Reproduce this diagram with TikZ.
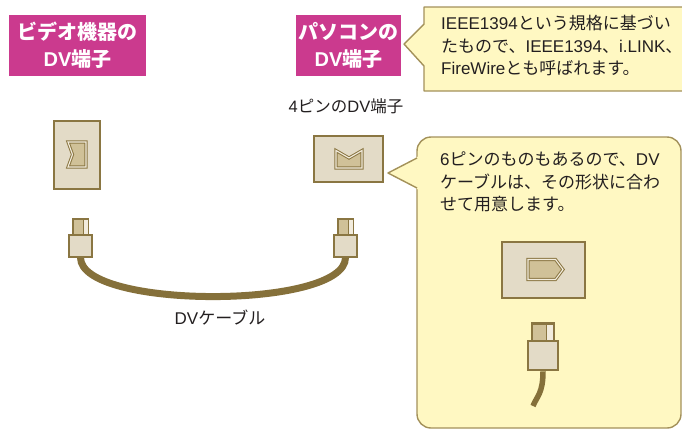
\documentclass[tikz,border=0pt]{standalone}
\usepackage{fontspec}
\setmainfont{Noto Sans CJK JP}
\newfontfamily\lat{Liberation Sans}
\definecolor{tagmagenta}{HTML}{CB3A8E}
\definecolor{notefill}{HTML}{FFF8C2}
\definecolor{noteline}{HTML}{A3915A}
\definecolor{portfill}{HTML}{E3DBC7}
\definecolor{olive}{HTML}{8A7642}
\definecolor{cablecol}{HTML}{85703A}
\definecolor{slotfill}{HTML}{D0C198}
\definecolor{slotgap}{HTML}{F2ECDD}
\definecolor{ink}{HTML}{231F20}
\begin{document}
\begin{tikzpicture}[x=1pt,y=-1pt,
  tag/.style={fill=tagmagenta, text=white, inner sep=0pt, align=center,
    font=\fontsize{20}{27}\selectfont\bfseries},
  body/.style={text=ink, inner sep=0pt, font=\fontsize{17}{22.5}\selectfont},
  note/.style={fill=notefill, draw=noteline, line width=1.4, line join=round},
  panel/.style={fill=portfill, draw=olive, line width=1.1},
  slot/.style={fill=slotfill, draw=olive, line width=1.0, double=slotgap, double distance=1.1},
  plugbody/.style={panel, inner sep=0pt},
  cable/.style={draw=cablecol, line width=7}
]
\useasboundingbox (0,0) rectangle (682,429);
\clip (0,0) rectangle (682,429);

% headings
\node[tag, minimum width=137, minimum height=61] (camtag) at (77.5,45.5) {ビデオ機器の\\{\lat DV}端子};
\node[tag, minimum width=105, minimum height=61] (pctag) at (348.5,45.5) {パソコンの\\{\lat DV}端子};

% upper note with pointer
\draw[note] (404,44) -- (424,24) -- (424,7) -- (692,7) -- (692,91) -- (424,91) -- (424,66) -- cycle;
\node[body, anchor=north west, align=left] (note1) at (441,15)
  {{\lat IEEE1394}という規格に基づい\\たもので、{\lat IEEE1394}、{\lat i.LINK}、\\{\lat FireWire}とも呼ばれます。};

% lower note with pointer
\draw[note, rounded corners=14] (417,137) rectangle (681,428);
\fill[notefill] (419,156) -- (388,173) -- (419,190) -- cycle;
\draw[note, fill=none] (417,158) -- (388,173) -- (417,188);
\node[body, anchor=north west, align=left] (note2) at (440,152)
  {{\lat 6}ピンのものもあるので、{\lat DV}\\ケーブルは、その形状に合わ\\せて用意します。};

% camera-side port (4-pin, vertical)
\node[panel, inner sep=0pt, minimum width=46, minimum height=68] (camport) at (77,155) {};
\draw[slot] (68,142) -- (86,142) -- (86,167) -- (68,167) -- (72.5,154.5) -- cycle;

% PC-side port (4-pin, horizontal)
\node[body, font=\fontsize{16.5}{20}\selectfont] (pcportlabel) at (346,106) {{\lat 4}ピンの{\lat DV}端子};
\node[panel, inner sep=0pt, minimum width=69, minimum height=46] (pcport) at (348.5,159) {};
\draw[slot] (336,150.5) -- (349,158) -- (362,150.5) -- (362,168) -- (336,168) -- cycle;

% DV cable with two 4-pin plugs
\node[plugbody, minimum width=23, minimum height=22] (lplug) at (80.5,246) {};
\node[plugbody, minimum width=23, minimum height=22] (rplug) at (345.5,246) {};
\draw[cable] (lplug.south) .. controls +(0,52) and +(0,52) .. (rplug.south);
\node[plugbody, minimum width=23, minimum height=22] at (lplug) {};
\node[plugbody, minimum width=23, minimum height=22] at (rplug) {};
\draw[panel, fill=slotfill] (73,219) rectangle (88,235);
\fill[slotgap] (83.5,220) rectangle (87.5,234);
\draw[olive, line width=0.8] (83.5,219) -- (83.5,235);
\draw[panel, fill=slotfill] (338,219) rectangle (353,235);
\fill[slotgap] (348.5,220) rectangle (352.5,234);
\draw[olive, line width=0.8] (348.5,219) -- (348.5,235);
\node[body] (cablelabel) at (220,318) {{\lat DV}ケーブル};

% 6-pin port and plug
\node[panel, line width=2.6, inner sep=0pt, minimum width=83, minimum height=56] (sixport) at (543.5,270) {};
\draw[slot] (528,259.5) -- (555.5,259.5) -- (563,269.5) -- (555.5,279.5) -- (528,279.5) -- cycle;
\node[panel, line width=2.6, inner sep=0pt, minimum width=30, minimum height=29] (sixplug) at (543,355.5) {};
\draw[cablecol, line width=5.5] (sixplug.south) .. controls +(0,22) and +(4,-10) .. (533,406);
\node[panel, line width=2.6, inner sep=0pt, minimum width=30, minimum height=29] at (sixplug) {};
\draw[panel, line width=2.2, fill=slotfill] (532,323.5) rectangle (554,341);
\fill[slotgap] (546.5,325) rectangle (552.5,340);
\draw[olive, line width=1] (546.5,324) -- (546.5,341);
\end{tikzpicture}
\end{document}
